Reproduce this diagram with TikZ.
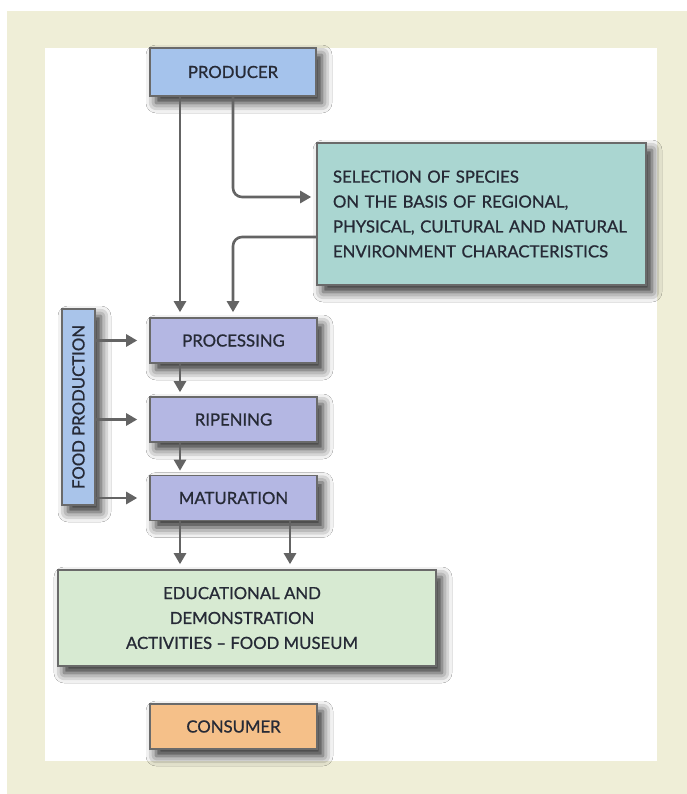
\documentclass[tikz,border=0pt]{standalone}
\usepackage{fontspec}
\setmainfont{Lato}[RawFeature={embolden=0.9}]
\usetikzlibrary{arrows.meta,shadows.blur,calc}

\definecolor{pagebeige}{HTML}{EFEED7}
\definecolor{boxline}{HTML}{6A6A6A}
\definecolor{wire}{HTML}{646464}
\definecolor{inkdark}{HTML}{262A36}
\definecolor{producerblue}{HTML}{A5C3EC}
\definecolor{foodblue}{HTML}{A9C4EA}
\definecolor{stagelilac}{HTML}{B4B7E3}
\definecolor{selectteal}{HTML}{AAD6D1}
\definecolor{edugreen}{HTML}{D7EAD2}
\definecolor{consumerorange}{HTML}{F5C089}

\tikzset{
  labelfont/.style={font=\fontsize{16.8}{25}\selectfont},
  panelbox/.style={draw=boxline, line width=1.6bp, text=inkdark,
    inner sep=0pt, align=center, labelfont,
    blur shadow={shadow xshift=6bp, shadow yshift=-7bp,
      shadow blur radius=10bp, shadow opacity=85}},
  flow/.style={draw=wire, line width=2.6bp,
    -{Triangle[length=11bp,width=12bp]}, rounded corners=9bp},
}

\begin{document}
\begin{tikzpicture}[x=1bp, y=-1bp]
  % page ground and inner white panel
  \useasboundingbox (0,0) rectangle (687,794);
  \fill[white] (0,0) rectangle (687,794);
  \fill[pagebeige] (7,11) rectangle (687,794);
  \fill[white] (45,48) rectangle (657,761);

  % boxes
  \node[panelbox, fill=producerblue, minimum width=166bp, minimum height=48bp]
    (producer) at (233,72) {PRODUCER};
  \node[panelbox, fill=selectteal, minimum width=329bp, minimum height=142bp,
        text width=297bp, align=left]
    (selection) at (481.5,214) {SELECTION OF SPECIES\\
      ON THE BASIS OF REGIONAL,\\
      PHYSICAL, CULTURAL AND NATURAL\\
      ENVIRONMENT CHARACTERISTICS};
  \node[panelbox, fill=foodblue, minimum width=33bp, minimum height=196bp]
    (food) at (78.5,407) {};
  \node[text=inkdark, labelfont, rotate=90]
    (foodlabel) at (food.center) {FOOD PRODUCTION};
  \node[panelbox, fill=stagelilac, minimum width=167bp, minimum height=45bp]
    (processing) at (233.5,340.5) {PROCESSING};
  \node[panelbox, fill=stagelilac, minimum width=167bp, minimum height=45bp]
    (ripening) at (233.5,419.5) {RIPENING};
  \node[panelbox, fill=stagelilac, minimum width=167bp, minimum height=45bp]
    (maturation) at (233.5,498) {MATURATION};
  \node[panelbox, fill=edugreen, minimum width=378bp, minimum height=96bp]
    (edu) at (247,618) {};
  \node[text=inkdark, labelfont, align=center]
    (edulabel) at (242,618) {EDUCATIONAL AND\\ DEMONSTRATION\\
      ACTIVITIES -- FOOD MUSEUM};
  \node[panelbox, fill=consumerorange, minimum width=167bp, minimum height=45bp]
    (consumer) at (233.5,726.5) {CONSUMER};

  % producer branches
  \draw[flow, shorten >=5bp] (producer.south -| 180,0) -- (processing.north -| 180,0);
  \draw[flow, shorten >=5bp] (producer.south -| 233,0) |- (selection.west |- 0,197);
  \draw[flow, shorten >=5bp] (selection.west |- 0,237) -| (processing.north -| 233,0);

  % food production inputs
  \draw[flow, shorten >=12bp] (food.east |- processing) -- (processing.west);
  \draw[flow, shorten >=12bp] (food.east |- ripening) -- (ripening.west);
  \draw[flow, shorten >=12bp] (food.east |- maturation) -- (maturation.west);

  % stage sequence
  \draw[flow, shorten >=4bp] (processing.south -| 180,0) -- (ripening.north -| 180,0);
  \draw[flow, shorten >=4bp] (ripening.south -| 180,0) -- (maturation.north -| 180,0);
  \draw[flow, shorten >=5bp] (maturation.south -| 180,0) -- (edu.north -| 180,0);
  \draw[flow, shorten >=5bp] (maturation.south -| 290,0) -- (edu.north -| 290,0);
\end{tikzpicture}
\end{document}
